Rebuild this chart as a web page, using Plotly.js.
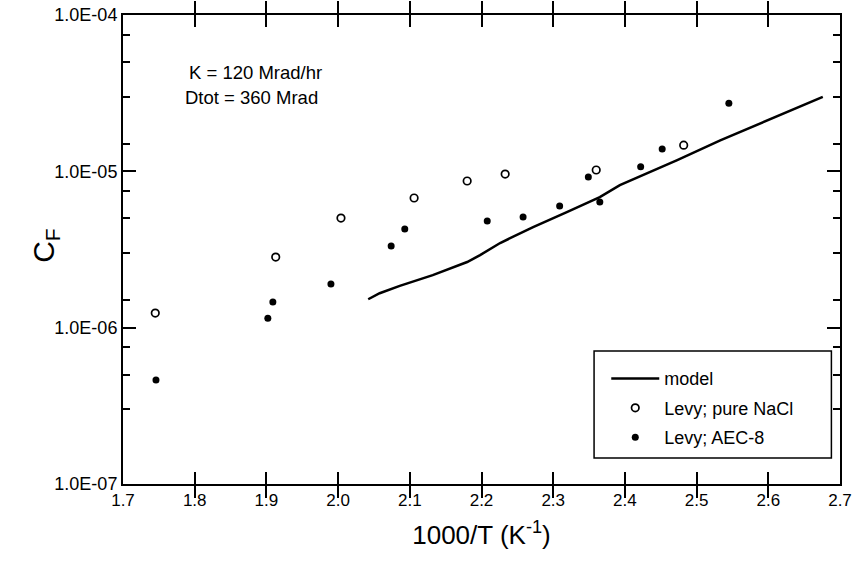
<!DOCTYPE html>
<html>
<head>
<meta charset="utf-8">
<script src="https://cdn.plot.ly/plotly-3.0.1.min.js"></script>
<style>html,body{margin:0;padding:0;background:#fff;}#chart{width:862px;height:564px;}</style>
</head>
<body>
<div id="chart"></div>
<script>
// Model curve
const modelX = [2.042, 2.058, 2.086, 2.132, 2.180, 2.198, 2.226, 2.272, 2.319, 2.365, 2.393, 2.473, 2.533, 2.676];
const modelY = [1.52e-6, 1.66e-6, 1.85e-6, 2.17e-6, 2.63e-6, 2.91e-6, 3.48e-6, 4.40e-6, 5.49e-6, 6.85e-6, 8.17e-6, 1.18e-5, 1.58e-5, 2.99e-5];

// Levy; pure NaCl (open circles)
const naclX = [1.745, 1.913, 2.004, 2.106, 2.180, 2.233, 2.360, 2.482];
const naclY = [1.24e-6, 2.83e-6, 5.02e-6, 6.75e-6, 8.67e-6, 9.6e-6, 1.02e-5, 1.47e-5];

// Levy; AEC-8 (filled circles)
const aecX = [1.746, 1.902, 1.909, 1.990, 2.074, 2.093, 2.208, 2.258, 2.309, 2.349, 2.365, 2.422, 2.452, 2.545];
const aecY = [4.62e-7, 1.15e-6, 1.46e-6, 1.90e-6, 3.33e-6, 4.28e-6, 4.81e-6, 5.1e-6, 6.0e-6, 9.2e-6, 6.36e-6, 1.07e-5, 1.39e-5, 2.73e-5];

// Axis ticks
const xTickVals = [1.7, 1.8, 1.9, 2.0, 2.1, 2.2, 2.3, 2.4, 2.5, 2.6, 2.7];
const xTickText = ["1.7", "1.8", "1.9", "2.0", "2.1", "2.2", "2.3", "2.4", "2.5", "2.6", "2.7"];
const yTickVals = [1e-7, 1e-6, 1e-5, 1e-4];
const yTickText = ["1.0E-07", "1.0E-06", "1.0E-05", "1.0E-04"];
const yMinorVals = [3e-7, 5e-7, 7.5e-7, 1.5e-6, 3e-6, 5e-6, 7.5e-6, 1.5e-5, 3e-5, 5e-5, 7.5e-5];

const FONT = "Liberation Sans, Arial, Helvetica, sans-serif";

const traces = [
  {x: modelX, y: modelY, type: "scatter", mode: "lines", name: "model",
   line: {color: "#000", width: 2.5}, legendgroup: "a"},
  {x: naclX, y: naclY, type: "scatter", mode: "markers", name: "Levy; pure NaCl",
   marker: {symbol: "circle-open", size: 7.5, color: "#000", line: {width: 1.7, color: "#000"}}, legendgroup: "b"},
  {x: aecX, y: aecY, type: "scatter", mode: "markers", name: "Levy; AEC-8",
   marker: {symbol: "circle", size: 7, color: "#000"}, legendgroup: "c"},
  // invisible trace that carries the minor-tick axis
  {x: [1.7], y: [1e-5], yaxis: "y2", type: "scatter", mode: "markers",
   marker: {opacity: 0}, showlegend: false, hoverinfo: "skip"}
];

const layout = {
  width: 862, height: 564,
  margin: {l: 123, r: 22, t: 15, b: 80},
  paper_bgcolor: "#fff", plot_bgcolor: "#fff",
  font: {family: FONT, color: "#000", size: 18},
  showlegend: true,
  legend: {
    x: 0.674, y: 0.264, xanchor: "left", yanchor: "top",
    bgcolor: "rgba(0,0,0,0)", borderwidth: 0,
    font: {family: FONT, size: 18, color: "#000"},
    traceorder: "grouped", tracegroupgap: 3, itemwidth: 48
  },
  xaxis: {
    range: [1.7, 2.7], tickmode: "array", tickvals: xTickVals, ticktext: xTickText,
    ticks: "inside", ticklen: 12, tickwidth: 2, tickcolor: "#000",
    showline: true, linecolor: "#000", linewidth: 2, mirror: "allticks",
    showgrid: false, zeroline: false,
    tickfont: {family: FONT, size: 17, color: "#000"},
    title: {text: "1000/T (K<sup>-1</sup>)", font: {family: FONT, size: 26, color: "#000"}, standoff: 16}
  },
  yaxis: {
    type: "log", range: [-7, -4], tickmode: "array", tickvals: yTickVals, ticktext: yTickText,
    ticks: "inside", ticklen: 13, tickwidth: 2, tickcolor: "#000",
    showline: true, linecolor: "#000", linewidth: 2, mirror: "allticks",
    showgrid: false, zeroline: false,
    tickfont: {family: FONT, size: 18, color: "#000"}
  },
  yaxis2: {
    type: "log", range: [-7, -4], overlaying: "y", side: "left",
    tickmode: "array", tickvals: yMinorVals, showticklabels: false,
    ticks: "inside", ticklen: 7, tickwidth: 1.5, tickcolor: "#000",
    showline: false, mirror: "allticks", showgrid: false, zeroline: false
  },
  shapes: [
    {type: "rect", xref: "paper", yref: "paper", x0: 0.657, x1: 0.988, y0: 0.0554, y1: 0.2836,
     line: {color: "#000", width: 1.5}, fillcolor: "#fff", layer: "below"}
  ],
  annotations: [
    {xref: "paper", yref: "paper", x: -0.1074, y: 0.51, xanchor: "center", yanchor: "middle",
     textangle: -90, text: "C<sub>F</sub>", showarrow: false, font: {family: FONT, size: 30, color: "#000"}},
    {xref: "paper", yref: "paper", x: 0.0893, y: 0.878, xanchor: "left", yanchor: "middle",
     text: "K = 120 Mrad/hr", showarrow: false, font: {family: FONT, size: 18.5, color: "#000"}},
    {xref: "paper", yref: "paper", x: 0.0836, y: 0.825, xanchor: "left", yanchor: "middle",
     text: "Dtot = 360 Mrad", showarrow: false, font: {family: FONT, size: 18.5, color: "#000"}}
  ]
};

Plotly.newPlot("chart", traces, layout, {displayModeBar: false});
</script>
</body>
</html>
